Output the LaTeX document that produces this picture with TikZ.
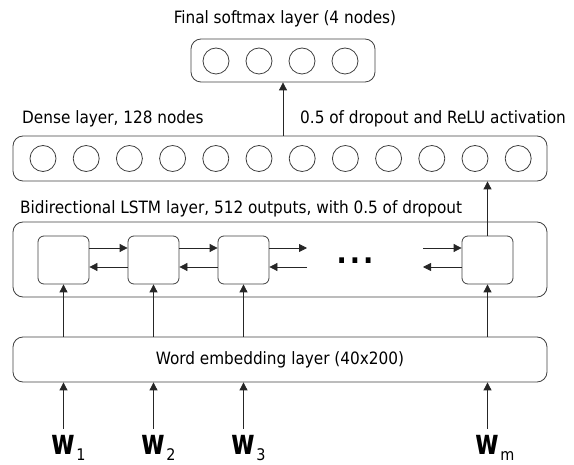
\documentclass[tikz,border=0pt]{standalone}
\usepackage{fontspec}
\setsansfont{DejaVu Sans Condensed}
\newfontfamily\wfont{DejaVu Sans}
\usetikzlibrary{arrows.meta}

\newcommand{\wlabel}[1]{\scalebox{0.95}[1.3]{\wfont\fontsize{27}{27}\selectfont\bfseries w}\hspace{1pt}\raisebox{-6pt}{\fontsize{16}{16}\selectfont #1}}

\begin{document}
\begin{tikzpicture}[
  x=1pt, y=-1pt,
  every node/.style={font=\sffamily\fontsize{17}{17}\selectfont, inner sep=0pt},
  layer/.style={draw=black!75, line width=0.8pt, rounded corners=10pt, minimum width=534pt},
  neuron/.style={draw=black!75, line width=0.8pt, circle, minimum size=26pt},
  cell/.style={draw=black!75, line width=0.8pt, rounded corners=6pt, minimum width=51pt, minimum height=48pt},
  link/.style={draw=black!85, line width=0.8pt, -{Triangle[length=8pt,width=8pt]}}
]
  \useasboundingbox (0,0) rectangle (574,465);

  % softmax
  \node[layer, minimum width=184pt, minimum height=43pt] (soft) at (283,60.5) {};
  \foreach \i in {1,...,4}
    \node[neuron] (s\i) at ({216+43*(\i-1)},61) {};
  \node[anchor=base] (softlbl) at (285,24) {Final softmax layer (4 nodes)};

  % dense
  \node[layer, minimum height=45pt] (dense) at (280,158.5) {};
  \foreach \i in {1,...,12}
    \node[neuron] (d\i) at ({43+43.2*(\i-1)},158.5) {};
  \node[anchor=base west] (denselbl) at (22,124) {Dense layer, 128 nodes};
  \node[anchor=base west] (droplbl) at (300,124) {0.5 of dropout and ReLU activation};

  % bidirectional lstm
  \node[layer, minimum height=75pt] (lstm) at (280,259.5) {};
  \node[anchor=base west] (lstmlbl) at (20,214) {Bidirectional LSTM layer, 512 outputs, with 0.5 of dropout};
  \foreach \i/\x in {1/63.5,2/153.5,3/243.5,4/487.5}
    \node[cell] (c\i) at (\x,260) {};
  \foreach \i/\j in {1/2,2/3} {
    \draw[link] (c\i.east |- 0,248) -- (c\j.west |- 0,248);
    \draw[link] (c\j.west |- 0,267) -- (c\i.east |- 0,267);
  }
  \coordinate (fwd3) at (307,248);
  \coordinate (bwd3) at (307,267);
  \coordinate (fwd4) at (423,248);
  \coordinate (bwd4) at (423,267);
  \draw[link] (c3.east |- fwd3) -- (fwd3);
  \draw[link] (bwd3) -- (c3.east |- bwd3);
  \draw[link] (fwd4) -- (c4.west |- fwd4);
  \draw[link] (c4.west |- bwd4) -- (bwd4);
  \node[font=\sffamily\bfseries\fontsize{30}{30}\selectfont] (dots) at (355,261) {.\hspace{3pt}.\hspace{3pt}.};

  % embedding
  \node[layer, minimum height=45pt] (embed) at (280,359.5) {Word embedding layer (40x200)};

  % connections
  \draw[link] (soft.south |- dense.north) -- (soft.south);
  \draw[link] (c4.north) -- (c4.north |- dense.south);
  \foreach \i in {1,...,4}
    \draw[link] (c\i.south |- embed.north) -- (c\i.south);

  % inputs
  \foreach \i/\t in {1/1,2/2,3/3,4/m} {
    \node[anchor=base west] (w\i) at ([xshift=-12pt]c\i.south |- 0,455) {\wlabel{\t}};
    \coordinate (in\i) at (c\i.south |- 0,429);
    \draw[link] (in\i) -- (in\i |- embed.south);
  }
\end{tikzpicture}
\end{document}
